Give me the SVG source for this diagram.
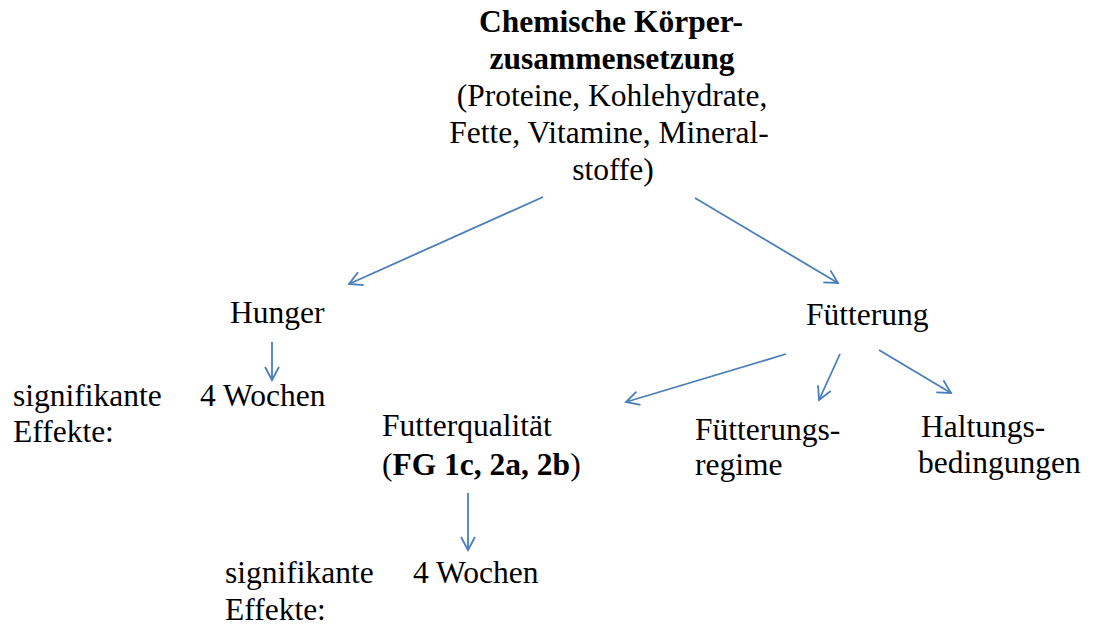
<svg xmlns="http://www.w3.org/2000/svg" width="1097" height="626" viewBox="0 0 1097 626">
<defs>
<style>
text{font-family:"Liberation Serif","Times New Roman",serif;font-size:31.5px;fill:#000}
.b{font-weight:bold}
.c{text-anchor:middle}
.con line{stroke:#4a7ebb;stroke-width:1.8;fill:none;marker-end:url(#ah)}
</style>
<marker id="ah" markerUnits="userSpaceOnUse" markerWidth="18" markerHeight="18" refX="15" refY="9" orient="auto">
<path d="M2,2 L15,9 L2,16" fill="none" stroke="#4a7ebb" stroke-width="1.8"/>
</marker>
</defs>
<rect width="1097" height="626" fill="#fff"/>
<g id="title">
<text class="b c" x="611" y="32">Chemische Körper-</text>
<text class="b c" x="612" y="69">zusammensetzung</text>
<text class="c" x="612" y="106">(Proteine, Kohlehydrate,</text>
<text class="c" x="609" y="143">Fette, Vitamine, Mineral-</text>
<text class="c" x="613" y="180">stoffe)</text>
</g>
<g id="hunger"><text x="230" y="323">Hunger</text></g>
<g id="fuetterung"><text x="806" y="325">Fütterung</text></g>
<g id="label1"><text x="13" y="406">signifikante</text><text x="13" y="442">Effekte:</text></g>
<g id="wochen1"><text x="200" y="406">4 Wochen</text></g>
<g id="futterqualitaet"><text x="382" y="436">Futterqualität</text><text x="382" y="475">(<tspan class="b">FG 1c, 2a, 2b</tspan>)</text></g>
<g id="regime"><text x="695" y="440">Fütterungs-</text><text x="695" y="475">regime</text></g>
<g id="haltung"><text x="921" y="437">Haltungs-</text><text x="918" y="473">bedingungen</text></g>
<g id="label2"><text x="225" y="583">signifikante</text><text x="225" y="620">Effekte:</text></g>
<g id="wochen2"><text x="413" y="583">4 Wochen</text></g>
<g class="con" id="connectors">
<line x1="543" y1="197" x2="349" y2="284"/>
<line x1="695" y1="198" x2="838" y2="283"/>
<line x1="272" y1="342" x2="272" y2="380"/>
<line x1="786" y1="354" x2="626" y2="402"/>
<line x1="840" y1="354" x2="819" y2="400"/>
<line x1="879" y1="350" x2="951" y2="393"/>
<line x1="468" y1="493" x2="468" y2="550"/>
</g>
</svg>
